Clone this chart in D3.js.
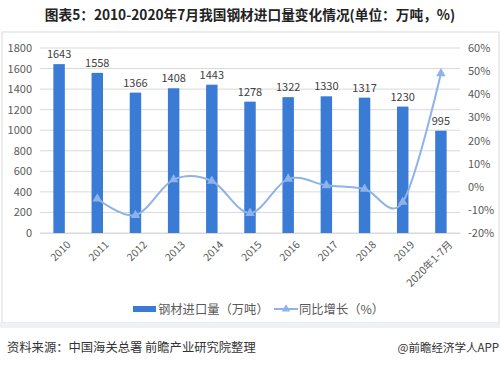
<!DOCTYPE html>
<html><head><meta charset="utf-8">
<script src="https://cdn.jsdelivr.net/npm/d3@7/dist/d3.min.js"></script>
<style>body{margin:0;background:#fff;font-family:"Microsoft YaHei","Noto Sans CJK SC",sans-serif}</style>
</head><body><svg id="c" width="500" height="366"></svg>
<script>
const categories=["2010","2011","2012","2013","2014","2015","2016","2017","2018","2019","2020年1-7月"];
const imports=[1643,1558,1366,1408,1443,1278,1322,1330,1317,1230,995];
const growth=[null,-5.2,-12.3,3.1,2.5,-11.4,3.4,0.6,-1.0,-6.6,49.0];
const leftTicks=[0,200,400,600,800,1000,1200,1400,1600,1800];
const rightTicks=[-20,-10,0,10,20,30,40,50,60];

const svg=d3.select("#c");
const F='"Noto Sans CJK SC",sans-serif';
const m={l:40,r:460,t:48,b:233};
svg.append("rect").attr("x",2).attr("y",32).attr("width",497).attr("height",291).attr("fill","#fff").attr("stroke","#d9d9d9");
svg.append("rect").attr("x",0).attr("y",323).attr("width",500).attr("height",5).attr("fill","#eef1f5");
svg.append("text").attr("x",250).attr("y",20).attr("text-anchor","middle").attr("font-family",F).attr("font-weight","bold").attr("font-size",13.7).attr("fill","#222").text("图表5：2010-2020年7月我国钢材进口量变化情况(单位：万吨，%)");

const x=d3.scaleBand().domain(categories).range([m.l,m.r]).paddingInner(0.7).paddingOuter(0.35);
const y=d3.scaleLinear().domain([0,1800]).range([m.b,m.t]);
const y2=d3.scaleLinear().domain([-20,60]).range([m.b,m.t]);

svg.append("g").selectAll("line").data(leftTicks).join("line")
 .attr("x1",m.l).attr("x2",m.r).attr("y1",d=>y(d)).attr("y2",d=>y(d))
 .attr("stroke","#d9d9d9").attr("stroke-width",1);

const la=svg.append("g").attr("transform",`translate(${m.l},0)`).call(d3.axisLeft(y).tickValues(leftTicks).tickSize(0).tickPadding(8).tickFormat(d3.format("d")));
la.select(".domain").remove();
la.selectAll("text").attr("font-family",F).attr("font-size",11).attr("fill","#595959");
const ra=svg.append("g").attr("transform",`translate(${m.r},0)`).call(d3.axisRight(y2).tickValues(rightTicks).tickSize(0).tickPadding(8).tickFormat(d=>d+"%"));
ra.select(".domain").remove();
ra.selectAll("text").attr("font-family",F).attr("font-size",11).attr("fill","#595959");

const xa=svg.append("g").attr("transform",`translate(0,${m.b})`).call(d3.axisBottom(x).tickSize(0));
xa.select(".domain").attr("stroke","#d9d9d9");
xa.selectAll("text").attr("font-family",F).attr("font-size",10.5).attr("fill","#595959")
 .attr("text-anchor","end").attr("transform","translate(5,5) rotate(-45)").attr("dy","0.7em").attr("dx","0");

svg.append("g").selectAll("rect").data(imports).join("rect")
 .attr("x",(d,i)=>x(categories[i])).attr("width",x.bandwidth())
 .attr("y",d=>y(d)).attr("height",d=>m.b-y(d)).attr("fill","#3a7bd5");
svg.append("g").selectAll("text").data(imports).join("text")
 .attr("x",(d,i)=>x(categories[i])+x.bandwidth()/2).attr("y",d=>y(d)-6)
 .attr("text-anchor","middle").attr("font-family",F).attr("font-size",11).attr("fill","#404040").text(d=>d);

const pts=growth.map((g,i)=>({c:categories[i],g})).filter(d=>d.g!==null);
const cx=d=>x(d.c)+x.bandwidth()/2;
svg.append("path").datum(pts).attr("fill","none").attr("stroke","#8db3e8").attr("stroke-width",2)
 .attr("d",d3.line().x(cx).y(d=>y2(d.g)).curve(d3.curveCatmullRom.alpha(0)));
svg.append("g").selectAll("path").data(pts).join("path")
 .attr("transform",d=>`translate(${cx(d)},${y2(d.g)})`)
 .attr("d",d3.symbol(d3.symbolTriangle,40)).attr("fill","#8db3e8");

const lg=svg.append("g");
lg.append("rect").attr("x",133).attr("y",306).attr("width",23).attr("height",6).attr("fill","#3a7bd5");
lg.append("text").attr("x",158).attr("y",314).attr("font-family",F).attr("font-size",12.3).attr("fill","#595959").text("钢材进口量（万吨）");
lg.append("line").attr("x1",274).attr("x2",298).attr("y1",309).attr("y2",309).attr("stroke","#8db3e8").attr("stroke-width",2);
lg.append("path").attr("transform","translate(286,309)").attr("d",d3.symbol(d3.symbolTriangle,30)).attr("fill","#8db3e8");
lg.append("text").attr("x",299).attr("y",314).attr("font-family",F).attr("font-size",12.3).attr("fill","#595959").text("同比增长（%）");

svg.append("text").attr("x",7).attr("y",352).attr("font-family",F).attr("font-size",12.3).attr("fill","#333").text("资料来源：中国海关总署 前瞻产业研究院整理");
svg.append("text").attr("x",499).attr("y",352).attr("text-anchor","end").attr("font-family",F).attr("font-size",11.5).attr("fill","#333").text("@前瞻经济学人APP");
</script></body></html>
